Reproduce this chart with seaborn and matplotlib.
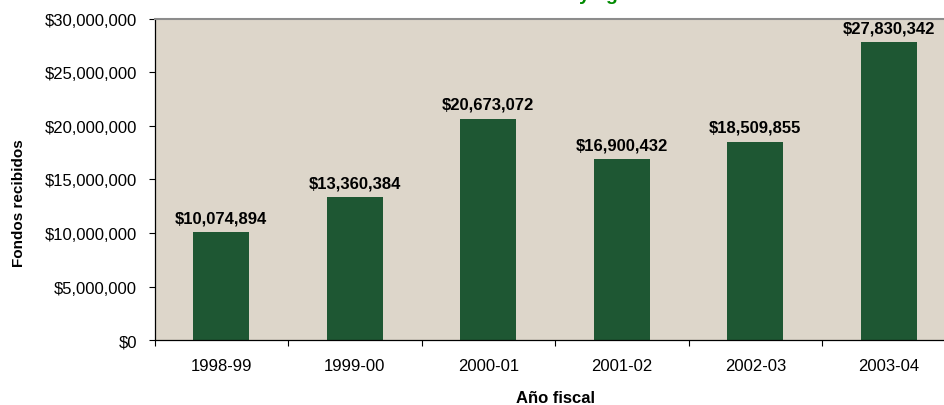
import pandas as pd
import matplotlib
matplotlib.use('Agg')
import matplotlib.pyplot as plt
import seaborn as sns
from matplotlib.ticker import FuncFormatter

# ── DATA ──────────────────────────────────────────────────────────────────────
years = ['1998-99', '1999-00', '2000-01', '2001-02', '2002-03', '2003-04']
funds = [10074894, 13360384, 20673072, 16900432, 18509855, 27830342]
y_ticks = [0, 5000000, 10000000, 15000000, 20000000, 25000000, 30000000]

df = pd.DataFrame({'year': years, 'funds': funds})

# ── PLOT ──────────────────────────────────────────────────────────────────────
sns.set_style('white')
plt.rcParams['font.family'] = ['Liberation Sans', 'DejaVu Sans']
plt.rcParams['text.color'] = 'black'
plt.rcParams['xtick.color'] = 'black'
plt.rcParams['ytick.color'] = 'black'
plt.rcParams['axes.labelcolor'] = 'black'

fig = plt.figure(figsize=(9.44, 4.06), dpi=100)
ax = fig.add_axes([0.1637, 0.160, 0.8485, 0.791])
ax.set_facecolor('#DDD6CA')

sns.barplot(data=df, x='year', y='funds', order=years, color='#1E5733',
            saturation=1, width=0.42, linewidth=0, ax=ax)

for i, v in enumerate(funds):
    ax.text(i, v + 650000, f'${v:,.0f}', ha='center', va='bottom',
            fontsize=12, fontweight='bold', color='black')

ax.set_ylim(0, 30000000)
ax.set_xlim(-0.5, len(years) - 0.5)
ax.set_yticks(y_ticks)
ax.yaxis.set_major_formatter(FuncFormatter(lambda v, p: f'${v:,.0f}'))
ax.set_xticks(range(len(years)))
ax.set_xticklabels(years)
ax.set_xticks([i + 0.5 for i in range(-1, len(years))], minor=True)
ax.tick_params(axis='x', which='major', length=0, pad=13, labelsize=12)
ax.tick_params(axis='x', which='minor', length=4, width=0.8, color='black',
               bottom=True)
ax.tick_params(axis='y', length=4.5, width=0.8, color='black', left=True,
               labelsize=12, pad=8)

ax.set_xlabel('Año fiscal', fontsize=12, fontweight='bold')
ax.set_ylabel('Fondos recibidos', fontsize=11, fontweight='bold')
ax.xaxis.set_label_coords(555 / 944, 1 - 391 / 406, transform=fig.transFigure)
ax.yaxis.set_label_coords(26 / 944, 0.5, transform=fig.transFigure)

for side in ['left', 'bottom']:
    ax.spines[side].set_color('black')
    ax.spines[side].set_linewidth(0.9)
ax.spines['top'].set_color('#8C8C8C')
ax.spines['top'].set_linewidth(1.5)
ax.spines['right'].set_visible(False)

# title, cut off at the top edge of the image
fig.text(0.634, 1.0, 'y   g', ha='center', va='baseline', fontsize=14,
         fontweight='bold', color='#008A00')

plt.savefig('out.png', dpi=100)
plt.close()
